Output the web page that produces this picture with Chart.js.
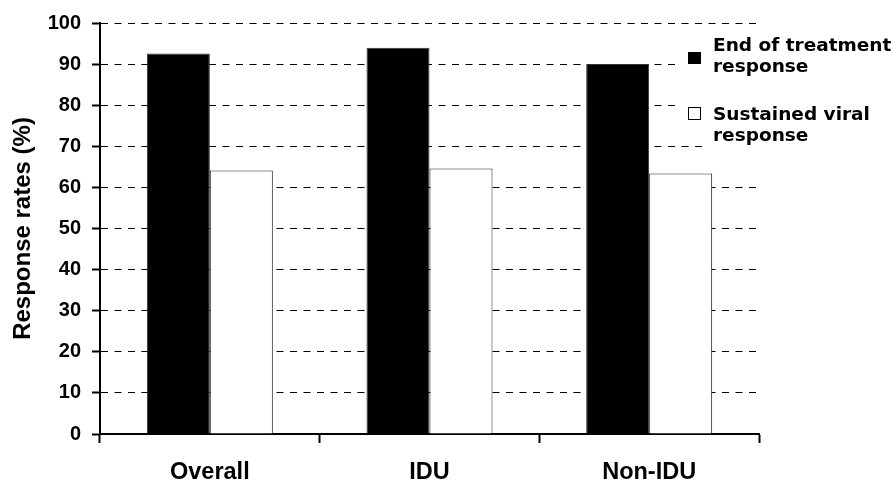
<!DOCTYPE html>
<html><head><meta charset="utf-8">
<script src="https://cdn.jsdelivr.net/npm/chart.js@4"></script>
<style>html,body{margin:0;padding:0;background:#fff}</style>
</head><body>
<canvas id="c" width="893" height="481" style="display:block;width:893px;height:481px"></canvas>
<script>
// ---- data ----
const categories = ['Overall', 'IDU', 'Non-IDU'];
const endOfTreatment = [92.6, 94.0, 90.0];
const sustainedViral = [64.1, 64.6, 63.4];
const seriesNames = [['End of treatment', 'response'], ['Sustained viral', 'response']];
const yTickValues = [0, 10, 20, 30, 40, 50, 60, 70, 80, 90, 100];
const yTitle = 'Response rates (%)';

const legendPlugin = {
  id: 'customLegend',
  afterDraw(chart) {
    const ctx = chart.ctx, ca = chart.chartArea;
    ctx.save();
    // white legend background
    ctx.fillStyle = '#fff';
    ctx.fillRect(ca.right - 82, 30, chart.width - (ca.right - 82), 110);
    ctx.fillRect(ca.right - 51, 139, chart.width - (ca.right - 51), 10);
    // swatches
    ctx.fillStyle = '#000';
    ctx.fillRect(ca.right - 71, 52, 13, 12);
    ctx.fillStyle = '#fff';
    ctx.fillRect(ca.right - 70.5, 107.5, 12, 12);
    ctx.strokeStyle = '#000';
    ctx.lineWidth = 1;
    ctx.strokeRect(ca.right - 70.5, 107.5, 12, 12);
    // text
    ctx.fillStyle = '#000';
    ctx.font = 'bold 18.5px "DejaVu Sans"';
    ctx.textAlign = 'left';
    ctx.textBaseline = 'alphabetic';
    const tx = ca.right - 46;
    ctx.fillText(seriesNames[0][0], tx, 51);
    ctx.fillText(seriesNames[0][1], tx, 72);
    ctx.fillText(seriesNames[1][0], tx, 120);
    ctx.fillText(seriesNames[1][1], tx, 141);
    // y axis title
    ctx.save();
    ctx.translate(23, (ca.top + ca.bottom) / 2);
    ctx.rotate(-Math.PI / 2);
    ctx.textAlign = 'center';
    ctx.textBaseline = 'middle';
    ctx.font = 'bold 24px "Liberation Sans"';
    ctx.fillText(yTitle, 0, 0);
    ctx.restore();
    ctx.restore();
  }
};

new Chart(document.getElementById('c'), {
  type: 'bar',
  data: {
    labels: categories,
    datasets: [
      { label: seriesNames[0].join(' '), data: endOfTreatment, backgroundColor: '#000', borderColor: '#333', borderWidth: 1,
        categoryPercentage: 0.5735, barPercentage: 1 },
      { label: seriesNames[1].join(' '), data: sustainedViral, backgroundColor: '#fff', borderColor: '#222', borderWidth: 1,
        categoryPercentage: 0.5735, barPercentage: 1 }
    ]
  },
  options: {
    responsive: false,
    animation: false,
    layout: { padding: { top: 22, right: 134, left: 0, bottom: 0 } },
    plugins: { legend: { display: false }, tooltip: { enabled: false } },
    scales: {
      x: {
        afterFit(scale) { scale.height = 47; },
        grid: { drawOnChartArea: false, drawTicks: true, tickLength: 9, tickColor: '#000', tickWidth: 2, offset: true },
        border: { display: true, color: '#000', width: 2 },
        ticks: { color: '#000', font: { family: 'Liberation Sans', weight: 'bold', size: 23.5 }, padding: 15, maxRotation: 0 }
      },
      y: {
        min: 0, max: 100,
        afterFit(scale) { scale.width = 100; },
        afterBuildTicks(scale) { scale.ticks = yTickValues.map(v => ({ value: v })); },
        grid: { color: '#000', lineWidth: 1, tickLength: 8, tickColor: '#000', tickWidth: 2, drawTicks: true },
        border: { display: true, color: '#000', width: 2, dash: [7, 6.5] },
        ticks: { color: '#000', font: { family: 'Liberation Sans', weight: 'bold', size: 20 }, padding: 11 }
      }
    }
  },
  plugins: [legendPlugin]
});
</script>
</body></html>
